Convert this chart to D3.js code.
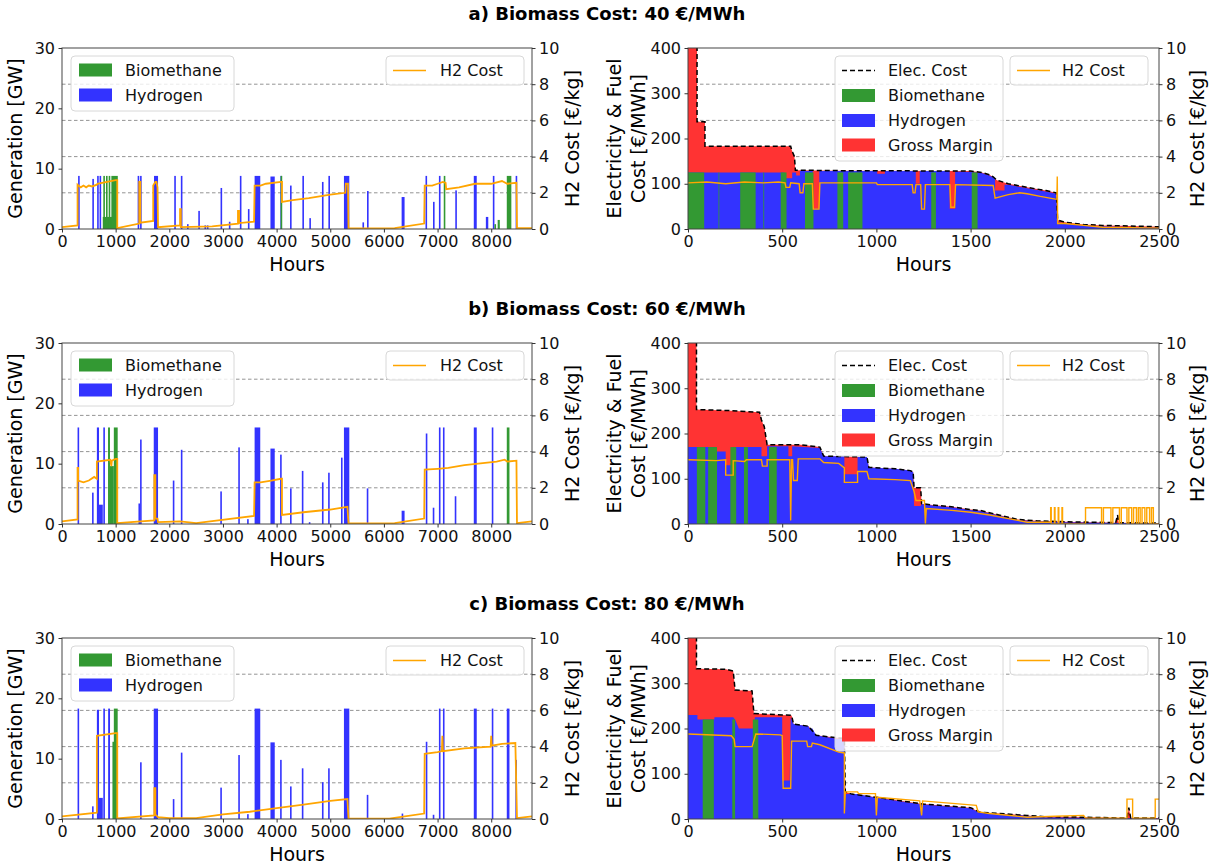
<!DOCTYPE html>
<html>
<head>
<meta charset="utf-8">
<script src="https://cdn.jsdelivr.net/npm/d3@7"></script>
<style>
  body { margin: 0; background: #fff; }
  svg { font-family: "DejaVu Sans", sans-serif; }
</style>
</head>
<body>
<svg id="chart" width="1215" height="865"></svg>
<script>
// ---- titles ----
const titles = ["a) Biomass Cost: 40 €/MWh", "b) Biomass Cost: 60 €/MWh", "c) Biomass Cost: 80 €/MWh"];

// ---- left panels: hourly generation [start, end, GW] ----
const h2GenA = [[300,312,8.8],[565,575,8.3],[655,680,8.8],[700,730,8.8],[1410,1420,8.8],[1455,1465,8.8],[1715,1790,8.8],[2092,2097,8.8],[2215,2230,8.8],[2330,2350,0.8],[2540,2544,3.0],[2655,2662,0.6],[2700,2707,0.6],[2955,2970,6.8],[3110,3125,1.2],[3315,3325,8.8],[3465,3475,3.3],[3590,3695,8.8],[3885,3965,8.7],[4070,4085,8.8],[4250,4265,7.2],[4480,4495,8.8],[4610,4625,1.8],[4845,4860,7.8],[4965,4980,8.8],[5255,5355,8.8],[5600,5610,1.1],[5685,5695,6.3],[6330,6385,5.3],[6775,6790,8.8],[6915,6925,4.5],[7025,7045,8.8],[7330,7338,6.4],[7675,7730,8.8],[7900,7945,2.0],[8030,8045,8.8],[8455,8465,8.8]];
const bioGenA = [[760,1040,2.0],[770,800,8.8],[820,850,8.8],[870,900,8.8],[920,1040,8.8],[4075,4080,8.8],[7115,7130,8.8],[8060,8090,0.8],[8120,8160,1.5],[8290,8375,8.8]];

const h2GenB = [[290,305,16],[560,570,5.2],[650,690,16],[690,760,3.2],[770,790,16],[1425,1435,3.4],[1455,1465,14],[1710,1790,16],[2065,2072,7.2],[2215,2228,12.3],[2950,2965,5.4],[3285,3295,12.7],[3450,3460,0.8],[3590,3695,16],[3885,3965,12.5],[4065,4085,11.5],[4250,4262,5.9],[4470,4485,8.8],[4600,4610,0.3],[4845,4860,6.9],[4960,4975,8.5],[5200,5206,11],[5255,5355,16],[5680,5690,5.9],[6330,6385,2.2],[6780,6795,15],[6910,6920,2.7],[7025,7045,16],[7100,7120,16],[7320,7330,4.6],[7675,7730,16],[8010,8030,16]];
const bioGenB = [[858,894,16],[894,966,9.6],[966,1038,16],[8290,8340,16]];

const h2GenC = [[290,300,18.3],[560,570,2.1],[650,690,18.1],[690,760,3.5],[770,790,18.3],[860,895,18.3],[1455,1465,9.4],[1710,1790,18.3],[2065,2072,3.3],[2215,2228,11],[2950,2965,5.2],[3285,3295,10.6],[3450,3460,0.8],[3590,3695,18.3],[3885,3965,12.7],[4065,4085,9.8],[4250,4262,5.4],[4470,4485,8.4],[4845,4860,6.1],[4960,4975,8.4],[5255,5355,18.3],[5680,5690,4.0],[6330,6360,0.9],[6780,6795,12.8],[6910,6920,0.7],[7025,7045,18.3],[7100,7120,18.3],[7675,7730,18.3],[8010,8030,18.3],[8290,8340,18.3],[8450,8460,9.8]];
const bioGenC = [[940,966,12.8],[966,1038,18.3]];

// ---- left panels: H2 cost over the year [hour, €/kg] ----
const h2CostA = [[0,0.1],[290,0.2],[290,2.45],[350,2.3],[400,2.4],[450,2.3],[500,2.4],[560,2.35],[650,2.45],[660,2.5],[1000,2.7],[1030,2.7],[1030,0.05],[1440,0.3],[1440,2.6],[1460,2.6],[1460,0.35],[1700,0.45],[1700,2.4],[1740,2.6],[1760,2.6],[1780,2.3],[1790,0.1],[2200,0.2],[2200,1.1],[2215,1.1],[2215,0.1],[2800,0.15],[3280,0.3],[3280,1.0],[3300,1.0],[3300,0.33],[3580,0.4],[3590,2.4],[3700,2.4],[3800,2.5],[4080,2.6],[4100,2.6],[4100,1.5],[4300,1.6],[4600,1.7],[5000,1.9],[5280,2.0],[5290,2.5],[5330,2.5],[5340,0.03],[6200,0.05],[6750,0.3],[6760,2.4],[6900,2.4],[7000,2.5],[7100,2.6],[7150,2.55],[7160,2.2],[7400,2.3],[7700,2.5],[8000,2.5],[8200,2.65],[8300,2.5],[8470,2.55],[8480,0.05],[8760,0.05]];
const h2CostB = [[0,0.15],[290,0.25],[290,3.1],[300,3.1],[300,2.4],[400,2.3],[500,2.4],[600,2.6],[650,2.5],[650,3.45],[900,3.55],[920,3.2],[930,3.5],[1000,3.6],[1030,3.6],[1030,0.05],[1720,0.2],[1720,2.7],[1740,2.7],[1740,0.3],[1780,0.3],[1790,0.1],[2200,0.15],[2500,0.05],[3580,0.45],[3590,2.3],[3700,2.3],[3900,2.4],[4080,2.5],[4100,2.5],[4100,0.5],[4500,0.65],[5000,0.8],[5320,0.95],[5340,0.03],[6200,0.05],[6750,0.3],[6760,3.0],[7000,3.05],[7200,3.1],[7500,3.25],[7800,3.35],[8100,3.45],[8250,3.55],[8300,3.45],[8470,3.5],[8480,0.05],[8760,0.15]];
const h2CostC = [[0,0.15],[650,0.35],[650,4.6],[1000,4.75],[1030,4.75],[1030,0.03],[1720,0.2],[1720,1.7],[1740,1.7],[1740,0.25],[1790,0.1],[2000,0.05],[2500,0.05],[3000,0.25],[3500,0.4],[4000,0.6],[4500,0.8],[5000,1.0],[5320,1.1],[5340,0.02],[6100,0.02],[6750,0.3],[6760,3.6],[7000,3.7],[7080,3.75],[7090,4.6],[7100,3.75],[7500,3.9],[7990,4.0],[8000,4.6],[8010,4.05],[8200,4.15],[8450,4.2],[8480,0.05],[8760,0.15]];

// ---- right panels: sorted hours, electricity cost [hour, €/MWh] ----
const elecA = [[0,420],[48,420],[48,237],[90,237],[90,183],[545,183],[550,175],[565,160],[570,130],[800,129],[1500,128],[1560,125],[1600,120],[1620,115],[1640,108],[1700,100],[1800,92],[1900,85],[1955,80],[1962,20],[2000,15],[2100,10],[2200,8],[2300,7],[2500,5]];
const elecB = [[0,420],[45,420],[45,253],[200,251],[380,247],[390,230],[405,215],[420,175],[600,175],[700,170],[720,150],[950,148],[960,125],[1100,122],[1180,118],[1195,115],[1200,80],[1235,80],[1240,45],[1300,42],[1400,38],[1500,32],[1550,30],[1600,25],[1650,20],[1700,15],[1750,10],[1850,7],[2000,5],[2270,3],[2280,20],[2286,3],[2500,2]];
const elecC = [[0,420],[45,420],[45,332],[200,331],[240,327],[250,285],[340,283],[350,233],[550,229],[560,210],[640,205],[680,185],[780,180],[830,178],[835,60],[870,55],[1000,48],[1200,36],[1250,33],[1500,25],[1550,15],[1800,8],[1900,5],[2100,4],[2330,2],[2340,25],[2350,2],[2500,2]];

// fuel cost (top of the hydrogen/biomethane area) [hour, €/MWh]
const fuelA = [[0,125],[512,125],[512,112],[553,112],[553,125],[574,125],[574,118],[594,118],[594,128],[662,128],[662,45],[697,45],[697,128],[1004,128],[1004,122],[1045,122],[1045,128],[1209,128],[1209,100],[1230,100],[1230,128],[1389,128],[1389,45],[1418,45],[1418,127],[1500,126],[1560,124],[1600,118],[1630,112],[1630,85],[1680,85],[1680,98],[1700,98],[1800,90],[1900,83],[1955,78],[1962,15],[2000,12],[2100,8],[2200,6],[2300,5],[2500,3]];
const fuelB = [[0,170],[150,170],[150,160],[200,160],[200,130],[240,130],[240,170],[390,170],[390,150],[420,150],[420,172],[533,172],[533,150],[553,150],[553,172],[700,168],[720,150],[830,150],[830,110],[900,110],[900,148],[950,148],[960,125],[1100,122],[1180,118],[1195,115],[1200,40],[1235,40],[1240,44],[1300,41],[1400,37],[1500,31],[1550,29],[1600,24],[1650,19],[1700,14],[1750,9],[1850,6],[2000,4],[2500,1]];
const fuelC = [[0,230],[50,230],[50,220],[140,220],[140,225],[240,225],[250,220],[270,200],[350,200],[355,225],[500,225],[500,85],[540,85],[545,225],[560,210],[640,205],[645,200],[660,200],[680,185],[780,178],[830,175],[835,55],[900,55],[1000,47],[1200,35],[1250,32],[1500,24],[1550,14],[1800,7],[1900,4],[2100,3],[2500,1]];

// biomethane hours in the sorted series [start, end, €/MWh]
const bioDurA = [[0,86,125],[162,166,125],[277,359,125],[400,404,125],[492,523,125],[621,666,125],[793,824,125],[850,926,125],[1291,1316,125],[1506,1537,125]];
const bioDurB = [[47,92,170],[107,154,170],[225,256,170],[297,318,170],[430,471,170]];
const bioDurC = [[78,137,220],[235,250,220],[344,373,220]];

// H2 cost in the sorted series [hour, €/kg]
const h2DurA = [[0,2.55],[100,2.6],[200,2.5],[300,2.6],[400,2.55],[480,2.6],[515,2.55],[520,2.3],[540,2.3],[545,2.55],[590,2.5],[595,2.0],[610,2.0],[615,2.5],[660,2.5],[665,1.1],[695,1.1],[700,2.55],[1000,2.55],[1005,2.45],[1190,2.45],[1195,2.0],[1205,2.0],[1210,2.45],[1235,2.45],[1240,1.1],[1255,1.1],[1260,2.45],[1390,2.45],[1395,1.2],[1415,1.2],[1420,2.45],[1620,2.4],[1630,1.7],[1700,1.9],[1760,2.0],[1800,1.95],[1870,1.8],[1950,1.65],[1958,1.65],[1960,2.9],[1962,0.3],[2000,0.3],[2100,0.2],[2200,0.1],[2500,0.05]];
const h2DurB = [[0,3.55],[150,3.5],[200,3.55],[200,2.7],[240,2.7],[240,3.5],[300,3.45],[310,3.55],[390,3.55],[395,3.2],[420,3.2],[420,3.55],[540,3.55],[545,0.2],[550,3.55],[555,3.55],[560,2.4],[580,2.4],[585,3.6],[700,3.6],[720,3.4],[800,3.35],[830,3.1],[830,2.3],[900,2.3],[900,2.9],[950,2.9],[960,2.5],[1100,2.45],[1180,2.4],[1200,1.8],[1210,1.3],[1255,1.3],[1260,0],[1265,0.85],[1400,0.75],[1500,0.65],[1600,0.5],[1700,0.3],[1750,0.2],[1800,0.1],[1925,0.1],[1925,0.9],[1928,0.9],[1928,0],[1945,0],[1945,0.9],[1948,0.9],[1948,0],[1965,0],[1965,0.9],[1968,0.9],[1968,0],[1985,0],[1985,0.9],[1988,0.9],[1988,0],[2110,0],[2110,0.9],[2195,0.9],[2195,0],[2205,0],[2205,0.9],[2245,0.9],[2245,0],[2255,0],[2255,0.9],[2290,0.9],[2290,0],[2300,0],[2300,0.9],[2330,0.9],[2330,0],[2340,0],[2340,0.9],[2355,0.9],[2355,0],[2365,0],[2365,0.9],[2380,0.9],[2380,0],[2390,0],[2390,0.9],[2400,0.9],[2400,0],[2410,0],[2410,0.9],[2425,0.9],[2425,0],[2435,0],[2435,0.9],[2450,0.9],[2450,0],[2460,0],[2460,0.9],[2470,0.9],[2470,0],[2500,0]];
const h2DurC = [[0,4.7],[230,4.6],[245,4.4],[250,4.0],[340,4.0],[360,4.7],[490,4.65],[500,4.6],[505,1.7],[545,1.7],[550,4.3],[630,4.3],[635,4.0],[655,4.0],[660,4.2],[700,4.1],[800,3.7],[830,3.65],[830,0.3],[835,1.5],[900,1.5],[905,1.4],[995,1.4],[1000,0.2],[1005,1.2],[1230,1.0],[1240,0.2],[1245,1.0],[1530,0.75],[1540,0.4],[1600,0.3],[1800,0.1],[1950,0.15],[2100,0.2],[2110,0.05],[2330,0.05],[2330,1.1],[2360,1.1],[2360,0.05],[2480,0.05],[2480,1.1],[2500,1.1]];

const yearTicks = [0,1000,2000,3000,4000,5000,6000,7000,8000];
const sortedTicks = [0,500,1000,1500,2000,2500];
const genTicks = [0,10,20,30];
const priceTicks = [0,100,200,300,400];
const h2Ticks = [0,2,4,6,8,10];

const rows = [
  { title: titles[0], gen: h2GenA, bio: bioGenA, h2: h2CostA, elec: elecA, fuel: fuelA, bioDur: bioDurA, h2Dur: h2DurA },
  { title: titles[1], gen: h2GenB, bio: bioGenB, h2: h2CostB, elec: elecB, fuel: fuelB, bioDur: bioDurB, h2Dur: h2DurB },
  { title: titles[2], gen: h2GenC, bio: bioGenC, h2: h2CostC, elec: elecC, fuel: fuelC, bioDur: bioDurC, h2Dur: h2DurC }
];

const colors = { bio: "#339933", h2: "#3333ff", margin: "#ff3333", cost: "#ffa500" };

const svg = d3.select("#chart");
const rowStep = 295;
const plotH = 181;
const leftPanel = { x: 62, w: 470 };
const rightPanel = { x: 688, w: 471 };

function styleAxis(g) {
  g.select(".domain").remove();
  g.selectAll(".tick line").attr("stroke", "#333").attr("stroke-width", 1);
  g.selectAll(".tick text").attr("font-size", 16).attr("fill", "#111")
    .attr("font-family", "DejaVu Sans, sans-serif");
}

function drawLegendBox(g, x, y, w, h) {
  g.append("rect").attr("x", x).attr("y", y).attr("width", w).attr("height", h)
    .attr("rx", 4).attr("fill", "#fff").attr("fill-opacity", 0.8)
    .attr("stroke", "#d8d8d8").attr("stroke-width", 1);
}

function legendText(g, x, y, t) {
  g.append("text").attr("x", x).attr("y", y).attr("dy", "0.35em")
    .attr("font-size", 16).attr("fill", "#111").text(t);
}

function drawGrid(g, w, y2) {
  // dashed grid from the right axis
  g.append("g").selectAll("line").data([2,4,6,8]).enter().append("line")
    .attr("x1", 0).attr("x2", w).attr("y1", d => y2(d)).attr("y2", d => y2(d))
    .attr("stroke", "#888").attr("stroke-width", 0.9).attr("stroke-dasharray", "3.5,2.5");
}

function frame(g, w) {
  g.append("rect").attr("x", 0).attr("y", 0).attr("width", w).attr("height", plotH)
    .attr("fill", "none").attr("stroke", "#444").attr("stroke-width", 1);
}

function drawLeft(row, i) {
  const top = 48 + i * rowStep;
  const g = svg.append("g").attr("transform", `translate(${leftPanel.x},${top})`);
  const w = leftPanel.w;
  const x = d3.scaleLinear().domain([0, 8760]).range([0, w]);
  const y = d3.scaleLinear().domain([0, 30]).range([plotH, 0]);
  const y2 = d3.scaleLinear().domain([0, 10]).range([plotH, 0]);

  const clipId = "clipL" + i;
  g.append("clipPath").attr("id", clipId).append("rect").attr("width", w).attr("height", plotH);
  const body = g.append("g").attr("clip-path", `url(#${clipId})`);

  drawGrid(body, w, y2);

  const bar = (data, color) => body.append("g").selectAll("rect").data(data).enter().append("rect")
    .attr("x", d => x(d[0]))
    .attr("width", d => Math.max(x(d[1]) - x(d[0]), 1.6))
    .attr("y", d => y(d[2]))
    .attr("height", d => y(0) - y(d[2]))
    .attr("fill", color);
  bar(row.gen, colors.h2);
  bar(row.bio, colors.bio);

  const line = d3.line().x(d => x(d[0])).y(d => y2(d[1]));
  body.append("path").datum(row.h2).attr("d", line)
    .attr("fill", "none").attr("stroke", colors.cost).attr("stroke-width", 1.8);

  frame(g, w);

  g.append("g").attr("transform", `translate(0,${plotH})`)
    .call(d3.axisBottom(x).tickValues(yearTicks).tickSize(3.5).tickPadding(3.5).tickFormat(d3.format("d")))
    .call(styleAxis);
  g.append("g").call(d3.axisLeft(y).tickValues(genTicks).tickSize(3.5).tickPadding(3.5)).call(styleAxis);
  g.append("g").attr("transform", `translate(${w},0)`)
    .call(d3.axisRight(y2).tickValues(h2Ticks).tickSize(3.5).tickPadding(3.5)).call(styleAxis);

  g.append("text").attr("x", w / 2).attr("y", plotH + 42).attr("text-anchor", "middle")
    .attr("font-size", 19).text("Hours");
  g.append("text").attr("transform", `translate(-40,${plotH / 2}) rotate(-90)`)
    .attr("text-anchor", "middle").attr("font-size", 19).text("Generation [GW]");
  g.append("text").attr("transform", `translate(${w + 47},${plotH / 2}) rotate(-90)`)
    .attr("text-anchor", "middle").attr("font-size", 19).text("H2 Cost [€/kg]");

  // legends
  drawLegendBox(g, 9, 8, 163, 55);
  g.append("rect").attr("x", 17).attr("y", 15.5).attr("width", 33).attr("height", 13).attr("fill", colors.bio);
  legendText(g, 63, 22.5, "Biomethane");
  g.append("rect").attr("x", 17).attr("y", 40.5).attr("width", 33).attr("height", 13).attr("fill", colors.h2);
  legendText(g, 63, 47.5, "Hydrogen");

  drawLegendBox(g, 324, 8, 138, 29);
  g.append("line").attr("x1", 331).attr("x2", 364).attr("y1", 22.5).attr("y2", 22.5)
    .attr("stroke", colors.cost).attr("stroke-width", 1.6);
  legendText(g, 378, 22.5, "H2 Cost");
}

function drawRight(row, i) {
  const top = 48 + i * rowStep;
  const g = svg.append("g").attr("transform", `translate(${rightPanel.x},${top})`);
  const w = rightPanel.w;
  const x = d3.scaleLinear().domain([0, 2500]).range([0, w]);
  const y = d3.scaleLinear().domain([0, 400]).range([plotH, 0]);
  const y2 = d3.scaleLinear().domain([0, 10]).range([plotH, 0]);

  const clipId = "clipR" + i;
  g.append("clipPath").attr("id", clipId).append("rect").attr("width", w).attr("height", plotH);
  const body = g.append("g").attr("clip-path", `url(#${clipId})`);

  drawGrid(body, w, y2);

  const area = d3.area().x(d => x(d[0])).y0(y(0)).y1(d => y(d[1]));
  // gross margin: everything under the electricity price
  body.append("path").datum(row.elec).attr("d", area).attr("fill", colors.margin);
  // fuel cost (hydrogen) on top of it
  body.append("path").datum(row.fuel).attr("d", area).attr("fill", colors.h2);
  // biomethane hours
  body.append("g").selectAll("rect").data(row.bioDur).enter().append("rect")
    .attr("x", d => x(d[0]))
    .attr("width", d => Math.max(x(d[1]) - x(d[0]), 0.8))
    .attr("y", d => y(d[2]))
    .attr("height", d => y(0) - y(d[2]))
    .attr("fill", colors.bio);

  const line = d3.line().x(d => x(d[0])).y(d => y(d[1]));
  body.append("path").datum(row.elec).attr("d", line)
    .attr("fill", "none").attr("stroke", "#000").attr("stroke-width", 1.5).attr("stroke-dasharray", "5,3");

  const line2 = d3.line().x(d => x(d[0])).y(d => y2(d[1]));
  body.append("path").datum(row.h2Dur).attr("d", line2)
    .attr("fill", "none").attr("stroke", colors.cost).attr("stroke-width", 1.4);

  // legends (drawn semi-transparent over the data)
  drawLegendBox(g, 147, 8, 168, 105);
  g.append("line").attr("x1", 154).attr("x2", 187).attr("y1", 22.5).attr("y2", 22.5)
    .attr("stroke", "#000").attr("stroke-width", 1.5).attr("stroke-dasharray", "5,3");
  legendText(g, 200, 22.5, "Elec. Cost");
  g.append("rect").attr("x", 154).attr("y", 41).attr("width", 33).attr("height", 13).attr("fill", colors.bio);
  legendText(g, 200, 47.5, "Biomethane");
  g.append("rect").attr("x", 154).attr("y", 66).attr("width", 33).attr("height", 13).attr("fill", colors.h2);
  legendText(g, 200, 72, "Hydrogen");
  g.append("rect").attr("x", 154).attr("y", 90.5).attr("width", 33).attr("height", 13).attr("fill", colors.margin);
  legendText(g, 200, 97, "Gross Margin");

  drawLegendBox(g, 322, 8, 138, 29);
  g.append("line").attr("x1", 329).attr("x2", 362).attr("y1", 22.5).attr("y2", 22.5)
    .attr("stroke", colors.cost).attr("stroke-width", 1.6);
  legendText(g, 374, 22.5, "H2 Cost");

  frame(g, w);

  g.append("g").attr("transform", `translate(0,${plotH})`)
    .call(d3.axisBottom(x).tickValues(sortedTicks).tickSize(3.5).tickPadding(3.5).tickFormat(d3.format("d")))
    .call(styleAxis);
  g.append("g").call(d3.axisLeft(y).tickValues(priceTicks).tickSize(3.5).tickPadding(3.5)).call(styleAxis);
  g.append("g").attr("transform", `translate(${w},0)`)
    .call(d3.axisRight(y2).tickValues(h2Ticks).tickSize(3.5).tickPadding(3.5)).call(styleAxis);

  g.append("text").attr("x", w / 2).attr("y", plotH + 42).attr("text-anchor", "middle")
    .attr("font-size", 19).text("Hours");
  g.append("text").attr("transform", `translate(-67,${plotH / 2}) rotate(-90)`)
    .attr("text-anchor", "middle").attr("font-size", 19).text("Electricity & Fuel");
  g.append("text").attr("transform", `translate(-43,${plotH / 2}) rotate(-90)`)
    .attr("text-anchor", "middle").attr("font-size", 19).text("Cost [€/MWh]");
  g.append("text").attr("transform", `translate(${w + 45},${plotH / 2}) rotate(-90)`)
    .attr("text-anchor", "middle").attr("font-size", 19).text("H2 Cost [€/kg]");
}

rows.forEach((row, i) => {
  svg.append("text").attr("x", 607).attr("y", 20 + i * rowStep).attr("text-anchor", "middle")
    .attr("font-size", 18).attr("font-weight", "bold").text(row.title);
  drawLeft(row, i);
  drawRight(row, i);
});
</script>
</body>
</html>
